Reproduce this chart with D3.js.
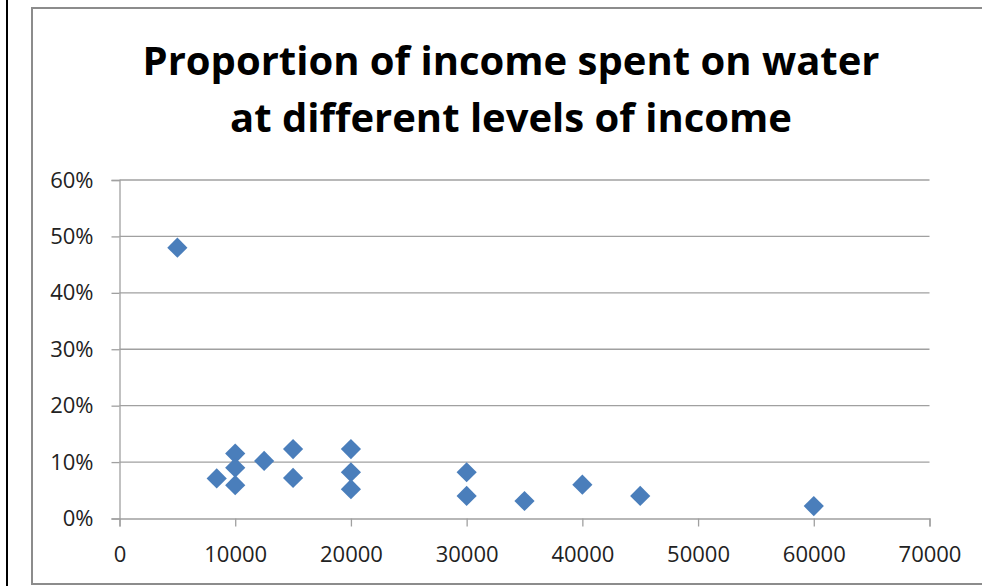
<!DOCTYPE html>
<html lang="en">
<head>
<meta charset="UTF-8">
<title>Proportion of income spent on water</title>
<script src="https://d3js.org/d3.v7.min.js"></script>
<style>
  body { margin: 0; background: #fff; }
  svg { display: block; }
</style>
</head>
<body>
<div id="chart"></div>
<script>
// data
const income = [5000, 8400, 10000, 10000, 10000, 12500, 15000, 15000, 20000, 20000, 20000, 30000, 30000, 35000, 40000, 45000, 60000];
const share  = [0.48, 0.071, 0.115, 0.09, 0.059, 0.102, 0.123, 0.072, 0.123, 0.082, 0.052, 0.082, 0.04, 0.031, 0.06, 0.04, 0.022];
const xTicks = [0, 10000, 20000, 30000, 40000, 50000, 60000, 70000];
const yTicks = [0, 0.1, 0.2, 0.3, 0.4, 0.5, 0.6];
const titleLines = ["Proportion of income spent on water", "at different levels of income"];

const width = 982, height = 586;
const svg = d3.select("#chart").append("svg")
    .attr("width", width).attr("height", height);

// black rule at left edge
svg.append("line")
    .attr("x1", 7).attr("x2", 7).attr("y1", 0).attr("y2", height)
    .attr("stroke", "#000").attr("stroke-width", 2);

// chart border
svg.append("rect")
    .attr("x", 32).attr("y", 8).attr("width", 960).attr("height", 576)
    .attr("fill", "#fff").attr("stroke", "#8c8c8c").attr("stroke-width", 2);

const x = d3.scaleLinear().domain([0, 70000]).range([119.5, 929.5]);
const y = d3.scaleLinear().domain([0, 0.6]).range([518.5, 180]);

// gridlines
svg.append("g")
    .selectAll("line")
    .data(yTicks.slice(1))
    .join("line")
    .attr("x1", x(0)).attr("x2", x(70000))
    .attr("y1", d => y(d)).attr("y2", d => y(d))
    .attr("stroke", "#a0a0a0").attr("stroke-width", 1.3);

const yAxis = svg.append("g")
    .attr("transform", `translate(${x(0)},0)`)
    .call(d3.axisLeft(y).tickValues(yTicks).tickSize(8).tickPadding(18).tickFormat(d3.format(".0%")));

const xAxis = svg.append("g")
    .attr("transform", `translate(0,${y(0)})`)
    .call(d3.axisBottom(x).tickValues(xTicks).tickSize(8).tickPadding(20).tickFormat(d3.format("d")));

[xAxis, yAxis].forEach(g => {
    g.select(".domain").attr("stroke", "#a0a0a0").attr("stroke-width", 1.3);
    g.selectAll(".tick line").attr("stroke", "#a0a0a0").attr("stroke-width", 1.3);
    g.selectAll("text")
        .attr("fill", "#222")
        .style("font-family", "'Open Sans', 'DejaVu Sans', sans-serif")
        .style("font-size", "22px");
});

// diamonds
const points = income.map((v, i) => ({ x: v, y: share[i] }));
svg.append("g")
    .selectAll("path")
    .data(points)
    .join("path")
    .attr("transform", d => `translate(${x(d.x)},${y(d.y)})`)
    .attr("d", d3.symbol(d3.symbolDiamond2, 260))
    .attr("fill", "#4a7ebb");

// title
svg.append("text")
    .attr("x", 511).attr("y", 75)
    .attr("text-anchor", "middle")
    .style("font-family", "'Open Sans', sans-serif")
    .style("font-weight", "bold")
    .style("font-size", "40px")
    .attr("fill", "#000")
    .selectAll("tspan")
    .data(titleLines)
    .join("tspan")
    .attr("x", 511)
    .attr("dy", (d, i) => i ? 57 : 0)
    .text(d => d);
</script>
</body>
</html>
